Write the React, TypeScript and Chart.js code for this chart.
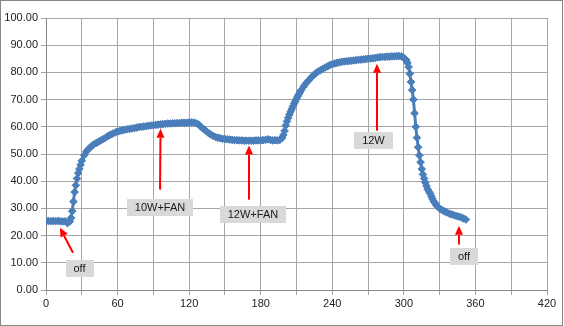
import React, { useEffect, useRef } from "react";
import { Chart, registerables } from "chart.js";

Chart.register(...registerables);

// Elapsed time (x axis)
const TIMES: number[] = [
  0, 2, 4, 6, 8, 10, 12, 14, 16, 18,
  20, 21, 22, 23, 24, 25, 26, 27, 28, 29, 30, 32, 34, 36, 38,
  40, 42, 44, 46, 48, 50, 52, 54, 56, 58,
  60, 62, 64, 66, 68, 70, 72, 74, 76, 78,
  80, 82, 84, 86, 88, 90, 92, 94, 96, 98,
  100, 102, 104, 106, 108, 110, 112, 114, 116, 118,
  120, 122, 124, 126, 128, 130, 132, 134, 136, 138,
  140, 142, 144, 146, 148, 150, 152, 154, 156, 158,
  160, 162, 164, 166, 168, 170, 172, 174, 176, 178,
  180, 182, 184, 186, 188, 190, 192, 194, 196,
  198, 199, 200, 201, 202, 203, 204, 205, 206, 207, 208, 209, 210, 211, 212, 213, 214, 216, 218,
  220, 222, 224, 226, 228, 230, 232, 234, 236, 238,
  240, 242, 244, 246, 248, 250, 252, 254, 256, 258,
  260, 262, 264, 266, 268, 270, 272, 274, 276, 278,
  280, 282, 284, 286, 288, 290, 292, 294, 296, 298,
  300, 301, 302, 303, 304, 305, 306, 307, 308, 309, 310, 311, 312, 313, 314, 315, 316, 317, 318, 319,
  320, 321, 322, 323, 324, 325, 326, 327, 328, 330, 332, 334, 336, 338,
  340, 342, 344, 346, 348, 350, 352,
];

// Temperature readings (y axis)
const TEMPS: number[] = [
  25.2, 25.4, 25.3, 25.4, 25.3, 25.4, 25.3, 25.2, 25.3, 24.6,
  25.2, 26.5, 29.0, 32.5, 36.0, 38.5, 41.0, 43.0, 44.5, 46.0, 47.5, 49.5, 51.0, 52.0, 52.8,
  53.5, 54.0, 54.5, 55.0, 55.5, 56.0, 56.6, 57.1, 57.5, 57.9,
  58.3, 58.5, 58.7, 58.9, 59.1, 59.2, 59.4, 59.5, 59.7, 59.9,
  60.0, 60.1, 60.2, 60.4, 60.5, 60.6, 60.7, 60.8, 60.9, 61.0,
  61.1, 61.2, 61.2, 61.3, 61.3, 61.4, 61.4, 61.5, 61.5, 61.5,
  61.6, 61.6, 61.6, 61.3, 60.8, 60.0, 59.2, 58.5, 57.8, 57.2,
  56.7, 56.3, 56.0, 55.8, 55.6, 55.5, 55.4, 55.3, 55.2, 55.1,
  55.1, 55.0, 55.0, 54.9, 54.9, 54.9, 54.9, 54.9, 55.0, 55.0,
  55.0, 55.1, 55.2, 55.4, 55.2, 55.0, 55.1, 55.0, 55.2,
  56.0, 57.0, 58.5, 60.5, 62.0, 63.3, 64.5, 65.5, 66.5, 67.5, 68.5, 69.4, 70.3, 71.2, 72.0, 72.8, 73.5, 74.8, 76.0,
  77.0, 78.0, 78.9, 79.6, 80.3, 80.8, 81.3, 81.8, 82.2, 82.7,
  83.0, 83.3, 83.5, 83.7, 83.9, 84.0, 84.1, 84.2, 84.3, 84.4,
  84.5, 84.6, 84.7, 84.8, 84.9, 85.0, 85.1, 85.2, 85.3, 85.5,
  85.6, 85.7, 85.7, 85.8, 85.8, 85.9, 85.9, 86.0, 86.0, 85.9,
  85.3, 85.0, 84.5, 83.5, 82.0, 79.5, 76.5, 73.5, 70.0, 65.0, 60.0, 56.0, 52.5, 49.5, 47.0, 44.5, 42.5, 41.0, 39.5, 38.2,
  37.0, 36.2, 35.5, 34.5, 33.5, 32.6, 32.0, 31.3, 30.8, 30.0, 29.4, 28.9, 28.5, 28.1,
  27.8, 27.5, 27.2, 27.0, 26.7, 26.3, 25.9,
];

// Axis ranges / tick steps
const X_MIN = 0;
const X_MAX = 420;
const X_GRID_STEP = 30;
const X_LABEL_STEP = 60;
const Y_MIN = 0;
const Y_MAX = 100;
const Y_STEP = 10;

// Annotation texts and their anchor points, in data units
const NOTE_TEXTS = ["off", "10W+FAN", "12W+FAN", "12W", "off"];
const NOTE_LABEL_X = [28.1, 95.6, 173.5, 274.5, 350.4];
const NOTE_LABEL_Y = [8.0, 30.3, 27.9, 54.9, 12.2];
const NOTE_TAIL_X = [22.6, 95.6, 170.2, 277.5, 346.2];
const NOTE_TAIL_Y = [13.7, 36.9, 33.2, 58.6, 16.7];
const NOTE_TIP_X = [11.7, 96.0, 170.2, 277.5, 346.2];
const NOTE_TIP_Y = [22.9, 59.3, 53.1, 83.2, 23.6];

const FONT_FAMILY = "'Liberation Sans', Arial, sans-serif";

const framePlugin = {
  id: "frame",
  beforeDraw(chart: any) {
    const { ctx, width, height } = chart;
    ctx.save();
    ctx.fillStyle = "#ffffff";
    ctx.fillRect(0, 0, width, height);
    ctx.strokeStyle = "#868686";
    ctx.lineWidth = 1;
    ctx.strokeRect(0.5, 0.5, width - 2, height - 1);
    ctx.restore();
  },
};

const notesPlugin = {
  id: "notes",
  afterDatasetsDraw(chart: any) {
    const { ctx } = chart;
    const xs = chart.scales.x;
    const ys = chart.scales.y;
    ctx.save();
    NOTE_TEXTS.forEach((text, i) => {
      const tx = xs.getPixelForValue(NOTE_TAIL_X[i]);
      const ty = ys.getPixelForValue(NOTE_TAIL_Y[i]);
      const hx = xs.getPixelForValue(NOTE_TIP_X[i]);
      const hy = ys.getPixelForValue(NOTE_TIP_Y[i]);
      const ang = Math.atan2(hy - ty, hx - tx);
      const headLen = 9;
      const headW = 4;
      const bx = hx - headLen * Math.cos(ang);
      const by = hy - headLen * Math.sin(ang);
      ctx.strokeStyle = "#ff0000";
      ctx.fillStyle = "#ff0000";
      ctx.lineWidth = 2;
      ctx.beginPath();
      ctx.moveTo(tx, ty);
      ctx.lineTo(bx, by);
      ctx.stroke();
      ctx.beginPath();
      ctx.moveTo(hx, hy);
      ctx.lineTo(bx + headW * Math.sin(ang), by - headW * Math.cos(ang));
      ctx.lineTo(bx - headW * Math.sin(ang), by + headW * Math.cos(ang));
      ctx.closePath();
      ctx.fill();

      ctx.font = `11px ${FONT_FAMILY}`;
      const w = Math.round(ctx.measureText(text).width + 16);
      const h = 17;
      const cx = xs.getPixelForValue(NOTE_LABEL_X[i]);
      const cy = ys.getPixelForValue(NOTE_LABEL_Y[i]);
      ctx.fillStyle = "#d9d9d9";
      ctx.fillRect(Math.round(cx - w / 2), Math.round(cy - h / 2), w, h);
      ctx.fillStyle = "#1a1a1a";
      ctx.textAlign = "center";
      ctx.textBaseline = "middle";
      ctx.fillText(text, cx, cy + 0.5);
    });
    ctx.restore();
  },
};

export default function App() {
  const canvasRef = useRef<HTMLCanvasElement | null>(null);

  useEffect(() => {
    if (!canvasRef.current) return;
    const points = TIMES.map((t, i) => ({ x: t, y: TEMPS[i] }));
    const chart = new Chart(canvasRef.current, {
      type: "scatter",
      data: {
        datasets: [
          {
            data: points,
            showLine: true,
            borderColor: "#4a7ebb",
            backgroundColor: "#4a7ebb",
            borderWidth: 3,
            pointStyle: "rectRot",
            pointRadius: 3.8,
            pointBorderWidth: 1,
            pointBackgroundColor: "#4a7ebb",
            pointBorderColor: "#4a7ebb",
            tension: 0,
          },
        ],
      },
      options: {
        responsive: false,
        animation: false,
        devicePixelRatio: 1,
        layout: { padding: { top: 18, right: 17, left: 0, bottom: 0 } },
        plugins: {
          legend: { display: false },
          tooltip: { enabled: false },
        },
        scales: {
          x: {
            type: "linear",
            min: X_MIN,
            max: X_MAX,
            ticks: {
              stepSize: X_GRID_STEP,
              autoSkip: false,
              maxRotation: 0,
              padding: 2,
              color: "#222222",
              font: { family: FONT_FAMILY, size: 11 },
              callback: (v: any) => (Number(v) % X_LABEL_STEP === 0 ? String(v) : ""),
            },
            grid: { color: "#a6a6a6", lineWidth: 1, tickLength: 5 },
            border: { color: "#868686" },
            afterFit: (s: any) => {
              s.height = 36;
            },
          },
          y: {
            min: Y_MIN,
            max: Y_MAX,
            ticks: {
              stepSize: Y_STEP,
              padding: 3,
              color: "#222222",
              font: { family: FONT_FAMILY, size: 11 },
              callback: (v: any) => Number(v).toFixed(2),
            },
            grid: { color: "#a6a6a6", lineWidth: 1, tickLength: 5 },
            border: { color: "#868686" },
            afterFit: (s: any) => {
              s.width = 46;
            },
          },
        },
      },
      plugins: [framePlugin, notesPlugin],
    });
    return () => chart.destroy();
  }, []);

  return (
    <div style={{ position: "absolute", left: 0, top: 0, width: 564, height: 326 }}>
      <canvas ref={canvasRef} width={564} height={326} style={{ display: "block" }} />
    </div>
  );
}
